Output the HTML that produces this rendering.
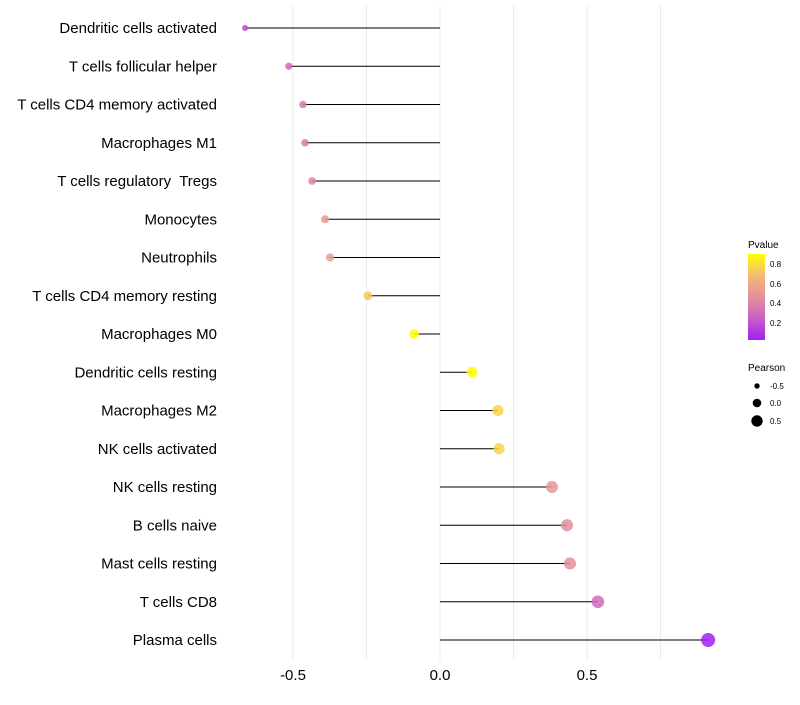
<!DOCTYPE html>
<html><head><meta charset="utf-8"><style>
body{margin:0;background:#fff;font-family:"Liberation Sans",sans-serif}
text{white-space:pre}
</style></head><body>
<svg id="chart" width="800" height="700" xmlns="http://www.w3.org/2000/svg">
<defs><linearGradient id="pg" x1="0" y1="1" x2="0" y2="0">
<stop offset="0" stop-color="#a020f0"/><stop offset="0.25" stop-color="#c860c8"/><stop offset="0.5" stop-color="#e4909a"/><stop offset="0.75" stop-color="#f4b878"/><stop offset="1" stop-color="#ffff00"/>
</linearGradient></defs>
<g id="grid"></g>
<g id="marks"></g>
<g id="labels"></g>
<g id="xticks"></g>
<g>
<text x="748" y="248" font-size="10">Pvalue</text>
<rect x="748" y="254" width="17" height="86" fill="url(#pg)"/>
<text x="770" y="267" font-size="8">0.8</text><text x="770" y="287" font-size="8">0.6</text>
<text x="770" y="306" font-size="8">0.4</text><text x="770" y="326" font-size="8">0.2</text>
</g>
<g>
<text x="748" y="371" font-size="10">Pearson</text>
<circle cx="757" cy="386" r="2.7" fill="#000"/><text x="770" y="389" font-size="8">-0.5</text>
<circle cx="757" cy="403" r="4.3" fill="#000"/><text x="770" y="406" font-size="8">0.0</text>
<circle cx="757" cy="421" r="5.7" fill="#000"/><text x="770" y="424" font-size="8">0.5</text>
</g>
</svg>
<script>
const categories=["Dendritic cells activated","T cells follicular helper","T cells CD4 memory activated","Macrophages M1","T cells regulatory  Tregs","Monocytes","Neutrophils","T cells CD4 memory resting","Macrophages M0","Dendritic cells resting","Macrophages M2","NK cells activated","NK cells resting","B cells naive","Mast cells resting","T cells CD8","Plasma cells"];
const pearson=[-0.663,-0.514,-0.466,-0.459,-0.435,-0.391,-0.374,-0.245,-0.088,0.109,0.197,0.201,0.381,0.432,0.442,0.537,0.912];
const pvalue=[0.2,0.3,0.36,0.37,0.42,0.52,0.53,0.72,0.89,0.89,0.76,0.76,0.5,0.45,0.45,0.3,0.03];
const xTicks=[-0.5,0,0.5];
const gridVals=[-0.5,-0.25,0,0.25,0.5,0.75];
const NS="http://www.w3.org/2000/svg";
const X=v=>440+v*294;
const Y=i=>28+i*38.25;
function el(t,a,p){const e=document.createElementNS(NS,t);for(const k in a)e.setAttribute(k,a[k]);document.getElementById(p).appendChild(e);return e;}
const stops=[[0.03,[160,32,240]],[0.25,[200,96,200]],[0.46,[228,144,154]],[0.68,[244,184,120]],[0.89,[255,255,0]]];
function col(p){if(p<=stops[0][0])return stops[0][1];for(let i=1;i<stops.length;i++){if(p<=stops[i][0]){const a=stops[i-1],b=stops[i],t=(p-a[0])/(b[0]-a[0]);return a[1].map((c,j)=>Math.round(c+(b[1][j]-c)*t));}}return stops[stops.length-1][1];}
function rad(p){return Math.sqrt(Math.max(2.25,26+25*p));}
gridVals.forEach(v=>{const g=el('line',{x1:X(v),x2:X(v),y1:5,y2:660,stroke:'#ebebeb','stroke-width':1},'grid');

});
categories.forEach((c,i)=>{
const l=el('line',{x1:X(0),x2:X(pearson[i]),y1:Y(i),y2:Y(i),stroke:'#000','stroke-width':1},'marks');


const cc=col(pvalue[i]);
const d=el('circle',{cx:X(pearson[i]),cy:Y(i),r:rad(pearson[i]),fill:'rgb('+cc.join(',')+')','fill-opacity':0.85},'marks');


const t=el('text',{x:217,y:Y(i)+5,'text-anchor':'end','font-size':15,fill:'#000'},'labels');t.textContent=c;


});
xTicks.forEach(v=>{const t=el('text',{x:X(v),y:680,'text-anchor':'middle','font-size':15,fill:'#000'},'xticks');t.textContent=v.toFixed(1);

});
</script>
</body></html>
